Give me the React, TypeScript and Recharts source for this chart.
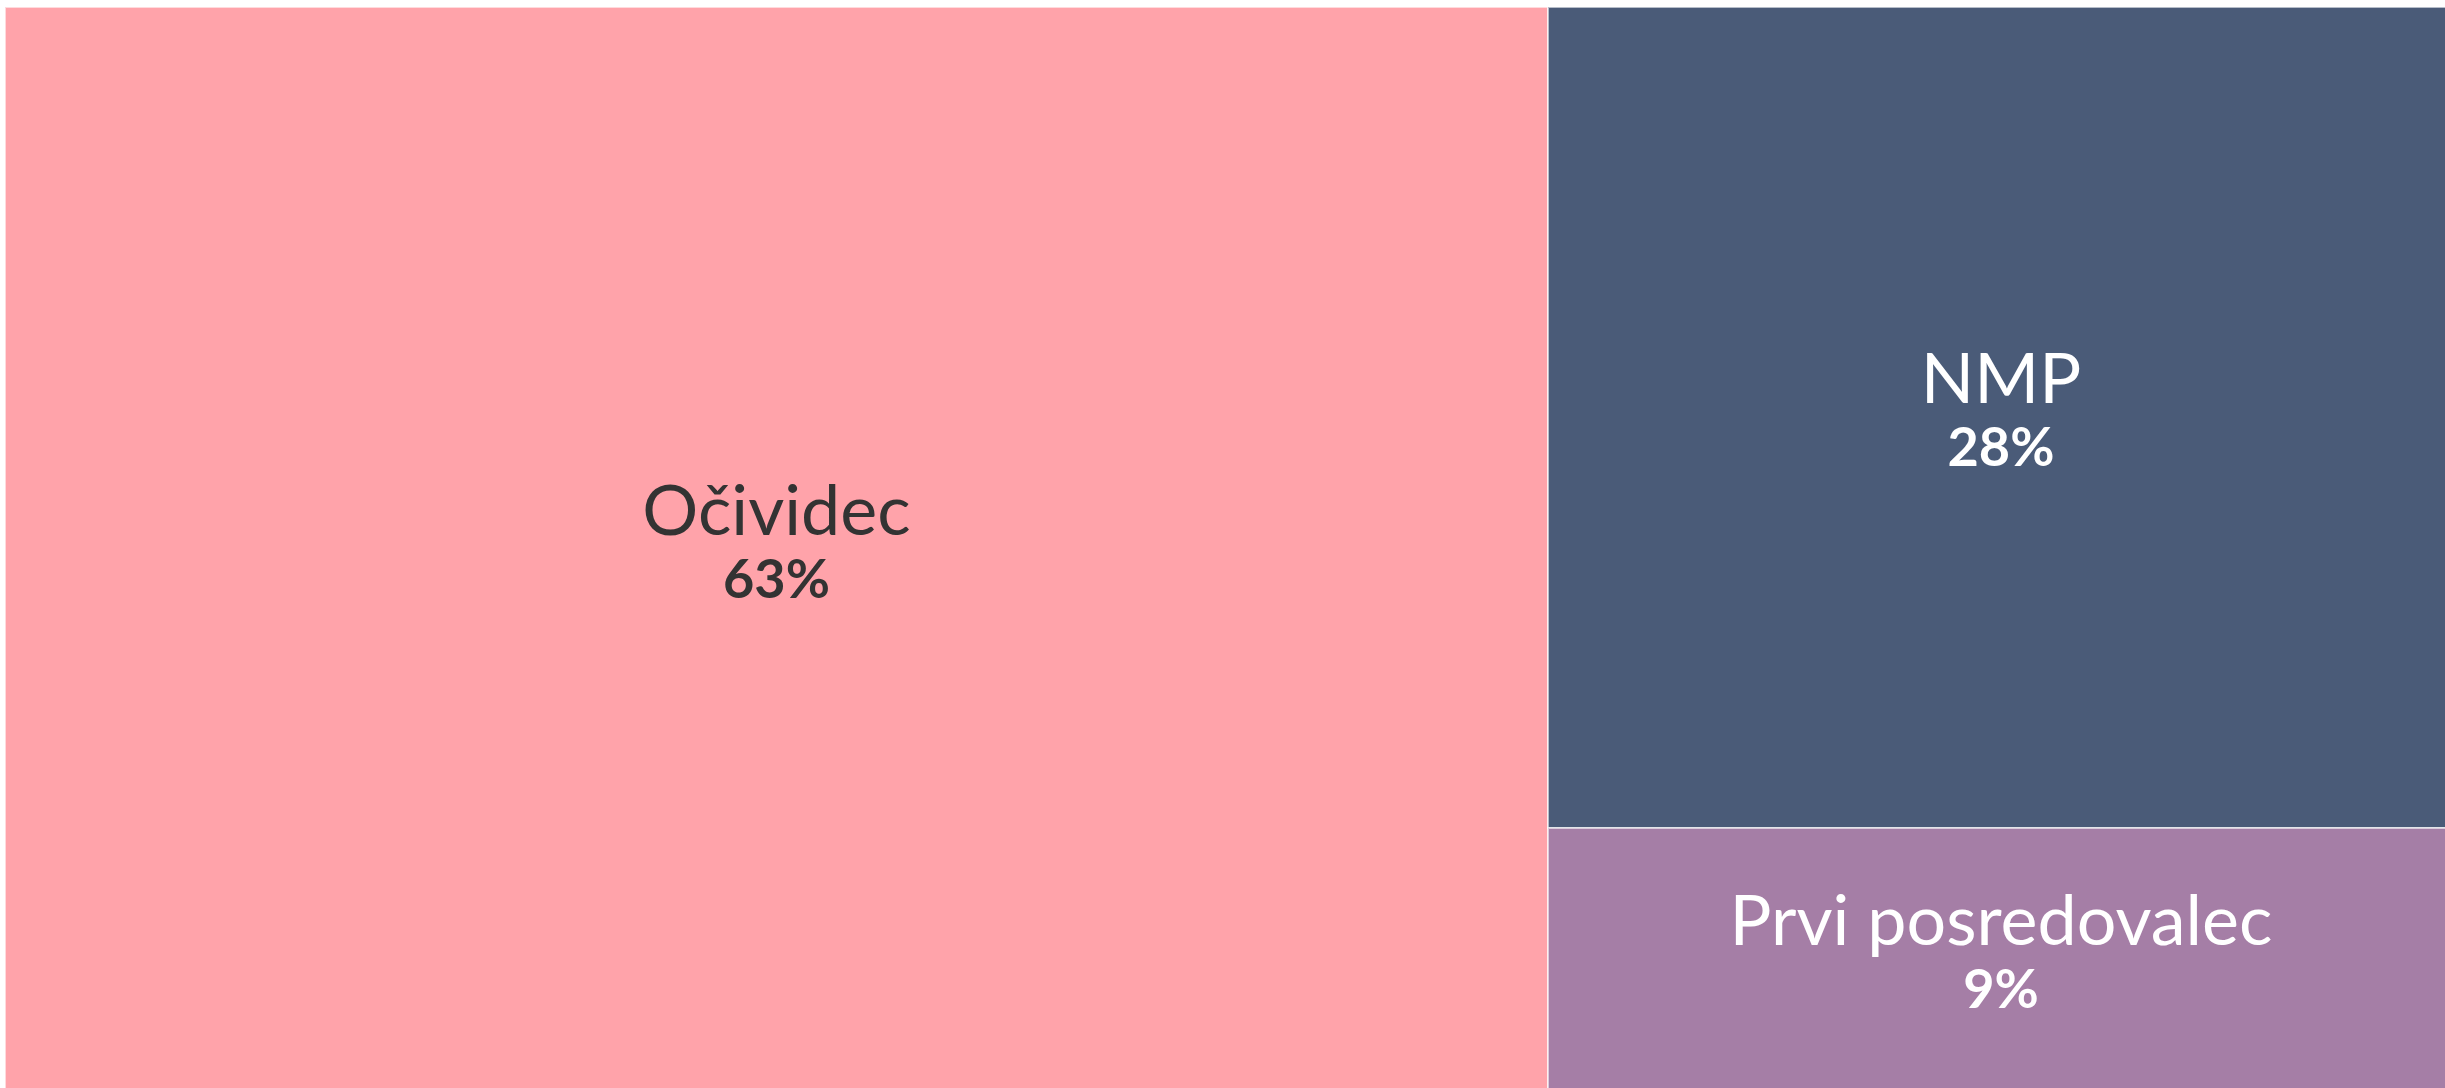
import React from "react";
import { Treemap } from "recharts";

const categories = ["Očividec", "NMP", "Prvi posredovalec"];
const shares = [63, 28, 9];
const fills = ["#ffa3aa", "#4a5b78", "#a57ea6"];
const textColors = ["#333333", "#ffffff", "#ffffff"];

const total = shares.reduce((a, b) => a + b, 0);
const data = categories.map((name, i) => ({ name, size: shares[i] }));

const FONT = "Lato, 'Noto Sans', sans-serif";

const Cell = (props: any) => {
  const { x, y, width, height, name, depth } = props;
  if (depth !== 1) return <g />;
  const i = categories.indexOf(name);
  const cx = x + width / 2;
  const cy = y + height / 2;
  const pct = Math.round((shares[i] / total) * 100) + "%";
  return (
    <g>
      <rect
        x={x}
        y={y}
        width={width}
        height={height}
        fill={fills[i]}
        stroke="#ffffff"
        strokeOpacity={0.6}
        strokeWidth={2}
      />
      <text
        x={cx}
        y={cy - 15}
        textAnchor="middle"
        fill={textColors[i]}
        fontFamily={FONT}
        fontSize={70}
        fontWeight={400}
      >
        {name}
      </text>
      <text
        x={cx}
        y={cy + 48}
        textAnchor="middle"
        fill={textColors[i]}
        fontFamily={FONT}
        fontSize={54}
        fontWeight={700}
      >
        {pct}
      </text>
    </g>
  );
};

export default function App() {
  return (
    <div
      style={{
        position: "fixed",
        left: 0,
        top: 0,
        width: "100vw",
        height: "100vh",
        overflow: "hidden",
        background: "#ffffff",
      }}
    >
      <div style={{ position: "absolute", left: 5, top: 7 }}>
        <Treemap
          width={2449}
          height={1085}
          data={data}
          dataKey="size"
          nameKey="name"
          aspectRatio={1.618}
          isAnimationActive={false}
          content={<Cell />}
        />
      </div>
    </div>
  );
}
